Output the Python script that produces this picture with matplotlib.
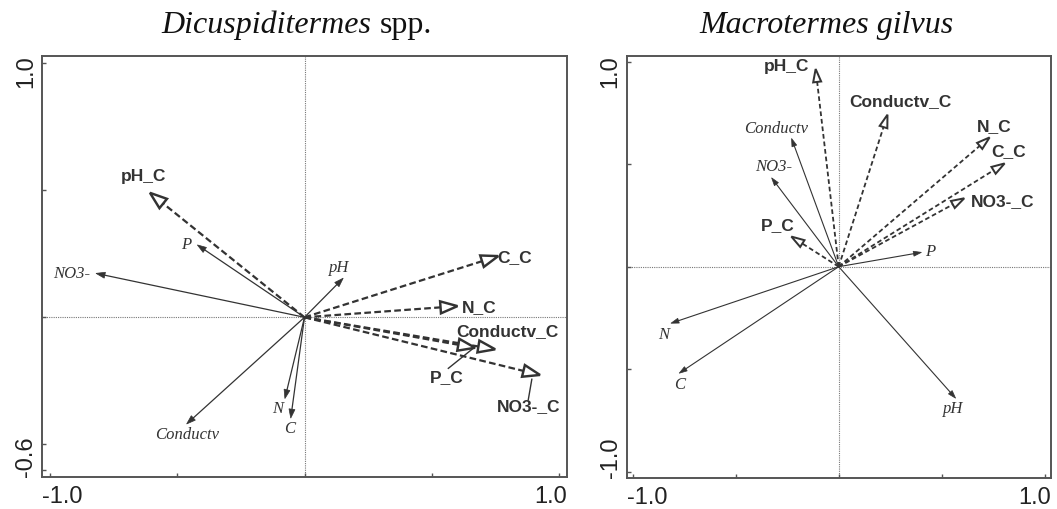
import matplotlib.pyplot as plt
import numpy as np
from matplotlib.patches import Polygon

# ---- data: Dicuspiditermes spp. (left panel) ----
d_env = ['P', 'NO3-', 'pH', 'Conductv', 'N', 'C']
d_env_x = [-0.421, -0.819, 0.152, -0.463, -0.077, -0.054]
d_env_y = [0.285, 0.173, 0.154, -0.420, -0.320, -0.397]
d_env_lx = [-0.463, -0.915, 0.137, -0.463, -0.107, -0.057]
d_env_ly = [0.285, 0.170, 0.193, -0.463, -0.362, -0.441]

d_cov = ['pH_C', 'C_C', 'N_C', 'Conductv_C', 'P_C', 'NO3-_C']
d_cov_x = [-0.607, 0.761, 0.601, 0.749, 0.670, 0.925]
d_cov_y = [0.490, 0.241, 0.044, -0.126, -0.120, -0.227]
d_cov_lx = [-0.631, 0.827, 0.686, 0.796, 0.559, 0.880]
d_cov_ly = [0.554, 0.236, 0.039, -0.057, -0.236, -0.352]
# leader lines for crowded labels: (label end) -> (arrow end)
d_lead = {'P_C': [(0.565, -0.201), (0.663, -0.122)],
          'NO3-_C': [(0.879, -0.325), (0.893, -0.244)]}

# ---- data: Macrotermes gilvus (right panel) ----
m_env = ['Conductv', 'NO3-', 'P', 'N', 'C', 'pH']
m_env_x = [-0.229, -0.326, 0.402, -0.815, -0.775, 0.568]
m_env_y = [0.626, 0.434, 0.070, -0.276, -0.520, -0.642]
m_env_lx = [-0.302, -0.318, 0.442, -0.849, -0.775, 0.555]
m_env_ly = [0.672, 0.488, 0.070, -0.333, -0.577, -0.696]

m_cov = ['pH_C', 'Conductv_C', 'N_C', 'C_C', 'NO3-_C', 'P_C']
m_cov_x = [-0.112, 0.237, 0.733, 0.806, 0.610, -0.230]
m_cov_y = [0.965, 0.742, 0.631, 0.504, 0.334, 0.147]
m_cov_lx = [-0.253, 0.300, 0.754, 0.823, 0.798, -0.294]
m_cov_ly = [0.976, 0.805, 0.686, 0.561, 0.320, 0.199]

INK = '#333333'
W, H = 1057, 509

fig = plt.figure(figsize=(W / 100, H / 100), dpi=100)


def arrow(ax, x, y, sx, sy, hl, hw, dashed, lw, dashes):
    # build the head in pixel space so it keeps its shape
    px, py = x * sx, y * sy
    d = np.hypot(px, py)
    ux, uy = px / d, py / d
    bx, by = px - ux * hl, py - uy * hl
    pts = [(px, py), (bx - uy * hw / 2, by + ux * hw / 2),
           (bx + uy * hw / 2, by - ux * hw / 2)]
    pts = [(a / sx, b / sy) for a, b in pts]
    if dashed:
        ax.plot([0, bx / sx], [0, by / sy], color=INK, lw=lw,
                ls=(0, dashes), solid_capstyle='butt')
        ax.add_patch(Polygon(pts, closed=True, fc='white', ec=INK, lw=lw * 1.1,
                             joinstyle='miter', zorder=3))
    else:
        ax.plot([0, bx / sx], [0, by / sy], color=INK, lw=lw)
        ax.add_patch(Polygon(pts, closed=True, fc=INK, ec=INK, lw=0.5, zorder=3))


def panel(rect_px, xlim, ylim, yticks, ylab, xticks, xlab):
    l, t, r, b = rect_px
    ax = fig.add_axes([l / W, 1 - b / H, (r - l) / W, (b - t) / H])
    ax.set_xlim(xlim)
    ax.set_ylim(ylim)
    ax.axhline(0, color='#777777', lw=0.8, ls=(0, (1, 1)), zorder=0)
    ax.axvline(0, color='#777777', lw=0.8, ls=(0, (1, 1)), zorder=0)
    for s in ['top', 'right', 'left', 'bottom']:
        ax.spines[s].set_color('#555555')
        ax.spines[s].set_linewidth(1.4)
    ax.set_xticks(xticks)
    ax.set_yticks(yticks)
    ax.set_xticklabels([])
    ax.set_yticklabels([])
    ax.tick_params(direction='in', length=3, width=1, color='#555555')
    # end labels sit flush with the axis ends, CANOCO style
    lab = dict(family='Liberation Sans', fontsize=17, color='#222222')
    wpx, hpx = r - l, b - t
    ax.text(0, -9 / hpx, xlab[0], transform=ax.transAxes, ha='left', va='top', **lab)
    ax.text(1, -9 / hpx, xlab[1], transform=ax.transAxes, ha='right', va='top', **lab)
    ax.text(-5 / wpx, 1, ylab[0], transform=ax.transAxes, rotation=90,
            ha='right', va='top', **lab)
    ax.text(-5 / wpx, 0, ylab[1], transform=ax.transAxes, rotation=90,
            ha='right', va='bottom', **lab)
    sx = wpx / (xlim[1] - xlim[0])
    sy = hpx / (ylim[1] - ylim[0])
    return ax, sx, sy


ital = dict(family='Liberation Serif', style='italic', fontsize=12, color=INK,
            ha='center', va='center')
bold = dict(family='Liberation Sans', weight='bold', fontsize=12.5, color=INK,
            ha='center', va='center')

# ---- left panel ----
ax1, sx, sy = panel((42.3, 55.7, 566.7, 477.3), (-1.03, 1.03), (-0.63, 1.03),
                    [1.0, 0.5, 0, -0.5, -0.6], ['1.0', '-0.6'],
                    [-1.0, -0.5, 0, 0.5, 1.0], ['-1.0', '1.0'])
for n, x, y, lx, ly in zip(d_env, d_env_x, d_env_y, d_env_lx, d_env_ly):
    arrow(ax1, x, y, sx, sy, 9, 6, False, 0.9, None)
    ax1.text(lx, ly, n, **ital)
for n, x, y, lx, ly in zip(d_cov, d_cov_x, d_cov_y, d_cov_lx, d_cov_ly):
    arrow(ax1, x, y, sx, sy, 17, 12, True, 1.6, (3, 1.5))
    ax1.text(lx, ly, n, **bold)
for n, seg in d_lead.items():
    ax1.plot([seg[0][0], seg[1][0]], [seg[0][1], seg[1][1]], color=INK, lw=1.0)

# ---- right panel ----
ax2, sx, sy = panel((626.7, 55.7, 1050.7, 477.7), (-1.03, 1.03), (-1.03, 1.03),
                    [1.0, 0.5, 0, -0.5, -1.0], ['1.0', '-1.0'],
                    [-1.0, -0.5, 0, 0.5, 1.0], ['-1.0', '1.0'])
for n, x, y, lx, ly in zip(m_env, m_env_x, m_env_y, m_env_lx, m_env_ly):
    arrow(ax2, x, y, sx, sy, 8, 5, False, 0.8, None)
    ax2.text(lx, ly, n, **ital)
for n, x, y, lx, ly in zip(m_cov, m_cov_x, m_cov_y, m_cov_lx, m_cov_ly):
    arrow(ax2, x, y, sx, sy, 13, 8, True, 1.3, (2.6, 1.6))
    ax2.text(lx, ly, n, **bold)

# ---- titles ----
ty = 1 - 33.3 / H
fig.text(371.4 / W, ty, 'Dicuspiditermes', family='Liberation Serif', style='italic',
         fontsize=23, color='#111111', ha='right', va='baseline')
fig.text(379.9 / W, ty, 'spp.', family='Liberation Serif', fontsize=23,
         color='#111111', ha='left', va='baseline')
fig.text(826.5 / W, ty, 'Macrotermes gilvus', family='Liberation Serif', style='italic',
         fontsize=23, color='#111111', ha='center', va='baseline')

fig.savefig('out.png', dpi=100)
